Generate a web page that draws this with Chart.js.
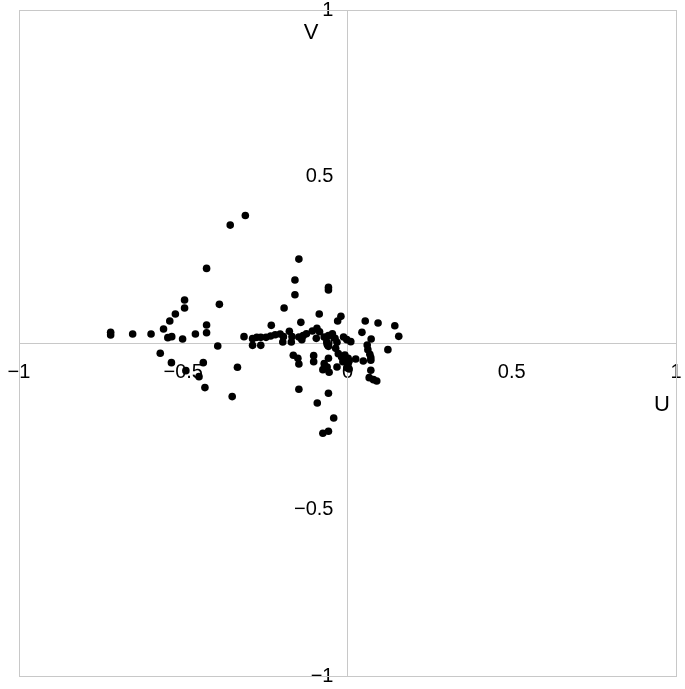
<!DOCTYPE html>
<html>
<head>
<meta charset="utf-8">
<script src="https://cdn.jsdelivr.net/npm/chart.js@4.4.1/dist/chart.umd.min.js"></script>
<style>
html,body{margin:0;padding:0;background:#fff;}
#wrap{width:685px;height:689px;position:relative;}
</style>
</head>
<body>
<div id="wrap"><canvas id="c"></canvas></div>
<script>
// U values (x) and V values (y) of the points
const uValues = [
 -0.721,-0.721,-0.654,-0.598,-0.560,-0.541,-0.524,-0.496,-0.496,-0.547,
 -0.535,-0.502,-0.463,-0.429,-0.429,-0.429,-0.390,-0.395,-0.570,-0.536,
 -0.439,-0.492,-0.452,-0.434,-0.351,-0.335,-0.357,-0.311,
 -0.315,-0.289,-0.289,-0.276,-0.264,-0.264,-0.248,-0.234,-0.220,-0.205,
 -0.195,-0.197,-0.177,-0.169,-0.171,-0.232,-0.193,-0.165,-0.151,-0.148,
 -0.148,-0.160,-0.160,-0.058,-0.058,-0.086,-0.148,-0.058,-0.092,-0.042,
 -0.075,-0.058,
 -0.142,-0.030,-0.020,-0.148,-0.135,-0.125,-0.139,-0.107,-0.093,-0.085,
 -0.095,-0.071,-0.058,-0.046,-0.062,-0.038,-0.032,-0.012,-0.002,-0.058,
 -0.036,-0.028,-0.018,-0.008,0.002,-0.014,0.002,-0.058,-0.103,-0.103,
 -0.071,-0.062,-0.056,-0.075,-0.032,0.025,
 0.054,0.093,0.144,0.156,0.044,0.072,0.060,0.062,0.068,0.123,
 0.010,0.005,0.048,0.071,0.071,-0.002,0.005,0.071,0.066,0.079,0.089
];
const vValues = [
 0.032,0.024,0.027,0.027,0.042,0.066,0.087,0.129,0.105,0.016,
 0.019,0.012,0.027,0.054,0.031,0.224,0.116,-0.009,-0.031,-0.059,
 -0.059,-0.083,-0.101,-0.134,-0.161,-0.073,0.354,0.383,
 0.019,0.013,-0.007,0.017,0.017,-0.007,0.017,0.021,0.025,0.027,
 0.019,0.003,0.035,0.019,0.003,0.053,0.105,-0.037,-0.046,-0.063,
 0.252,0.189,0.145,0.167,0.159,0.087,-0.139,-0.151,-0.180,-0.225,
 -0.271,-0.265,
 0.062,0.066,0.080,0.018,0.022,0.028,0.010,0.036,0.044,0.034,
 0.014,0.018,0.022,0.028,0.002,0.014,0.002,0.018,0.010,-0.010,
 -0.016,-0.032,-0.042,-0.036,-0.046,-0.056,-0.062,-0.046,-0.038,-0.056,
 -0.062,-0.072,-0.088,-0.080,-0.072,-0.048,
 0.066,0.060,0.052,0.020,0.032,0.012,-0.006,-0.020,-0.034,-0.020,
 0.004,-0.054,-0.054,-0.044,-0.052,-0.074,-0.078,-0.082,-0.104,-0.110,-0.114
];
const tickValues = [-1, -0.5, 0, 0.5, 1];
const xTitle = 'U';
const yTitle = 'V';

const points = uValues.map((u, i) => ({x: u, y: vValues[i]}));
const fmt = v => (v < 0 ? '\u2212' + String(Math.abs(v)) : String(v));
const fontFam = '"Liberation Sans", Arial, sans-serif';

const framePlugin = {
  id: 'frame',
  beforeDatasetsDraw(chart) {
    const {ctx, chartArea: a} = chart;
    ctx.save();
    ctx.strokeStyle = '#c8c8c8';
    ctx.lineWidth = 1;
    ctx.strokeRect(Math.round(a.left) + 0.5, Math.round(a.top) + 0.5,
                   Math.round(a.right - a.left), Math.round(a.bottom - a.top));
    ctx.restore();
  },
  afterDraw(chart) {
    const {ctx, scales: {x, y}} = chart;
    ctx.save();
    ctx.fillStyle = '#000';
    ctx.font = '22px ' + fontFam;
    ctx.textAlign = 'center';
    ctx.textBaseline = 'middle';
    ctx.fillText(xTitle, x.getPixelForValue(0.957), y.getPixelForValue(-0.186));
    ctx.fillText(yTitle, x.getPixelForValue(-0.111), y.getPixelForValue(0.93));
    ctx.restore();
  }
};
const noPad = s => { s.paddingLeft = 0; s.paddingRight = 0; s.paddingTop = 0; s.paddingBottom = 0; };

new Chart(document.getElementById('c'), {
  type: 'scatter',
  data: {
    datasets: [{
      data: points,
      backgroundColor: '#000',
      borderColor: '#000',
      pointRadius: 3.8,
      pointHoverRadius: 3.8,
      borderWidth: 0
    }]
  },
  options: {
    responsive: true,
    maintainAspectRatio: false,
    animation: false,
    events: [],
    layout: {padding: {left: 19, top: 10, right: 9, bottom: 13}},
    plugins: {legend: {display: false}, tooltip: {enabled: false}},
    scales: {
      x: {
        type: 'linear', min: -1, max: 1,
        position: {y: 0},
        afterBuildTicks: s => { s.ticks = tickValues.map(v => ({value: v})); },
        afterFit: noPad,
        grid: {display: false, drawTicks: false},
        border: {display: true, color: '#c8c8c8', width: 1},
        ticks: {padding: 17, color: '#000', font: {size: 20, family: fontFam},
                callback: fmt, maxRotation: 0, autoSkip: false}
      },
      y: {
        type: 'linear', min: -1, max: 1,
        position: {x: 0},
        afterBuildTicks: s => { s.ticks = tickValues.map(v => ({value: v})); },
        afterFit: noPad,
        grid: {display: false, drawTicks: false},
        border: {display: true, color: '#c8c8c8', width: 1},
        ticks: {color: '#000', font: {size: 20, family: fontFam},
                callback: v => fmt(v) + '\u2002\u2009', autoSkip: false}
      }
    }
  },
  plugins: [framePlugin]
});
</script>
</body>
</html>
